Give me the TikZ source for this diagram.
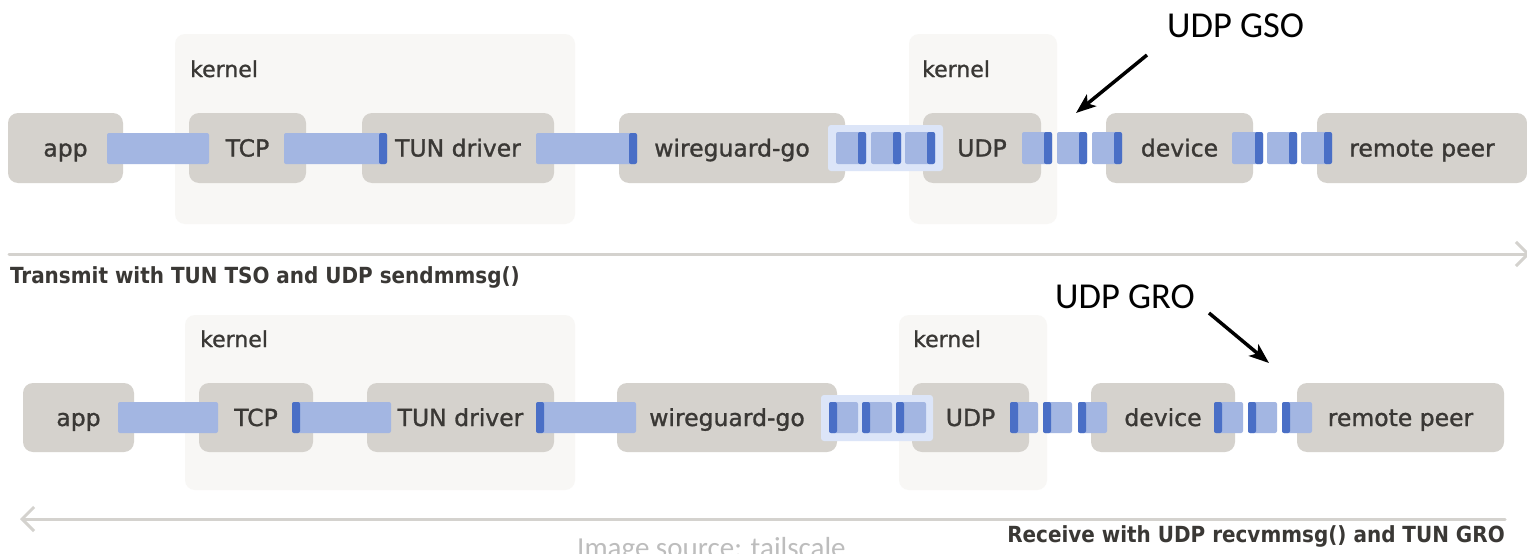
\documentclass[tikz,border=0pt]{standalone}
\usepackage{fontspec}
\setmainfont{DejaVu Sans}
\newfontfamily\labelfont[FakeBold=1.2]{DejaVu Sans}
\newfontfamily\headfont{DejaVu Sans Condensed}
\newfontfamily\notefont{Carlito}
\usetikzlibrary{arrows.meta}

\definecolor{boxfill}{HTML}{D5D2CD}
\definecolor{kernfill}{HTML}{F8F7F5}
\definecolor{pktlight}{HTML}{A3B6E2}
\definecolor{pktdark}{HTML}{4A6FC6}
\definecolor{batchfill}{HTML}{DCE5F8}
\definecolor{labeltext}{HTML}{3A3835}
\definecolor{flowline}{HTML}{D4D2CE}
\definecolor{srcgray}{HTML}{BDBDBD}

% stage box: name, left, right, top, bottom, label
\newcommand{\stage}[6]{%
  \node[stagebox, minimum width={#3-#2}, minimum height={#5-#4}]
    (#1) at ({(#2+#3)/2},{(#4+#5)/2}) {#6};}
% kernel area: name, left, right, top, bottom
\newcommand{\kernarea}[5]{%
  \node[kernbox, minimum width={#3-#2}, minimum height={#5-#4}]
    (#1) at ({(#2+#3)/2},{(#4+#5)/2}) {};}
% packet: left, width, top, bottom, side of the dark edge (l/r/n)
\newcommand{\pkt}[5]{%
  \fill[pktlight, rounded corners=2pt] (#1,#3) rectangle ({#1+#2},#4);
  \if r#5\fill[pktdark, rounded corners=2pt] ({#1+#2-8},#3) rectangle ({#1+#2},#4);\fi
  \if l#5\fill[pktdark, rounded corners=2pt] (#1,#3) rectangle ({#1+8},#4);\fi}

\begin{document}
\begin{tikzpicture}[x=1pt, y=-1pt,
  stagebox/.style={fill=boxfill, rounded corners=10pt, inner sep=0pt, outer sep=0pt,
    text=labeltext, font=\labelfont\fontsize{23.5}{28}\selectfont, text height=17pt, text depth=0pt},
  kernbox/.style={fill=kernfill, rounded corners=10pt, inner sep=0pt, outer sep=0pt},
  kernlabel/.style={anchor=base west, inner sep=0pt, text=labeltext,
    font=\labelfont\fontsize{22}{26}\selectfont},
  heading/.style={inner sep=0pt, text=labeltext, font=\headfont\bfseries\fontsize{22.2}{27}\selectfont},
  callout/.style={anchor=base west, inner sep=0pt, text=black,
    font=\notefont\fontsize{36.5}{42}\selectfont},
  pointer/.style={line width=3.5pt, black, -{Stealth[length=20pt, width=15pt, inset=5pt]}},
  flow/.style={line width=3pt, flowline, line cap=round},
  batch/.style={fill=batchfill, rounded corners=3pt}]

\useasboundingbox (0,0) rectangle (1527,554);
\fill[white] (0,0) rectangle (1527,554);

% ---------------- transmit path ----------------
\kernarea{kernTa}{175}{575}{34}{224}
\kernarea{kernTb}{909}{1057}{34}{224}
\node[kernlabel] (kernTaLbl) at (190,77) {kernel};
\node[kernlabel] (kernTbLbl) at (922,77) {kernel};

\stage{appT}{8}{123}{113}{183}{app}
\stage{tcpT}{189}{306}{113}{183}{TCP}
\stage{tunT}{362}{554}{113}{183}{TUN driver}
\stage{wgT}{619}{845}{113}{183}{wireguard-go}
\stage{udpT}{923}{1041}{113}{183}{UDP}
\stage{devT}{1106}{1253}{113}{183}{device}
\stage{peerT}{1317}{1527}{113}{183}{remote peer}

\pkt{107}{102}{133}{164}{n}
\pkt{284}{103}{133}{164}{r}
\pkt{536}{101}{133}{164}{r}
\fill[batch] (828,125) rectangle (943,171);
\pkt{836}{30}{132}{164}{r}
\pkt{871}{30}{132}{164}{r}
\pkt{905}{30}{132}{164}{r}
\pkt{1022}{30}{132}{164}{r}
\pkt{1057}{30}{132}{164}{r}
\pkt{1092}{30}{132}{164}{r}
\pkt{1232}{31}{132}{164}{r}
\pkt{1267}{30}{132}{164}{r}
\pkt{1301}{31}{132}{164}{r}

\coordinate (txStart) at (9,254);
\coordinate (txEnd) at (1530,254);
\draw[flow, -{Straight Barb[length=12pt, width=24pt]}] (txStart) -- (txEnd);
\node[heading, anchor=base west] (txTitle) at (10,283) {Transmit with TUN TSO and UDP sendmmsg()};

\node[callout] (gso) at (1167,37) {UDP GSO};
\coordinate (gsoFrom) at (1147,55);
\coordinate (gsoTo) at (1076,113);
\draw[pointer] (gsoFrom) -- (gsoTo);

% ---------------- receive path ----------------
\kernarea{kernRa}{185}{575}{315}{490}
\kernarea{kernRb}{899}{1047}{315}{490}
\node[kernlabel] (kernRaLbl) at (200,347) {kernel};
\node[kernlabel] (kernRbLbl) at (913,347) {kernel};

\stage{appR}{23}{134}{383}{452}{app}
\stage{tcpR}{199}{313}{383}{452}{TCP}
\stage{tunR}{367}{554}{383}{452}{TUN driver}
\stage{wgR}{617}{837}{383}{452}{wireguard-go}
\stage{udpR}{912}{1029}{383}{452}{UDP}
\stage{devR}{1091}{1235}{383}{452}{device}
\stage{peerR}{1297}{1504}{383}{452}{remote peer}

\pkt{118}{100}{402}{433}{n}
\pkt{292}{99}{402}{433}{l}
\pkt{536}{100}{402}{433}{l}
\fill[batch] (821,395) rectangle (933,441);
\pkt{829}{29}{402}{433}{l}
\pkt{862}{30}{402}{433}{l}
\pkt{896}{30}{402}{433}{l}
\pkt{1010}{28}{402}{433}{l}
\pkt{1043}{29}{402}{433}{l}
\pkt{1078}{29}{402}{433}{l}
\pkt{1214}{29}{402}{433}{l}
\pkt{1248}{29}{402}{433}{l}
\pkt{1282}{30}{402}{433}{l}

\coordinate (rxStart) at (1505,519);
\coordinate (rxEnd) at (20,519);
\draw[flow, -{Straight Barb[length=12pt, width=24pt]}] (rxStart) -- (rxEnd);
\node[heading, anchor=base east] (rxTitle) at (1505,542) {Receive with UDP recvmmsg() and TUN GRO};

\node[callout] (gro) at (1055,308) {UDP GRO};
\coordinate (groFrom) at (1209,313);
\coordinate (groTo) at (1269,363);
\draw[pointer] (groFrom) -- (groTo);

\node[anchor=base west, inner sep=0pt, text=srcgray, font=\notefont\fontsize{29}{34}\selectfont]
  (source) at (577,557.5) {Image source: tailscale};
\end{tikzpicture}
\end{document}
